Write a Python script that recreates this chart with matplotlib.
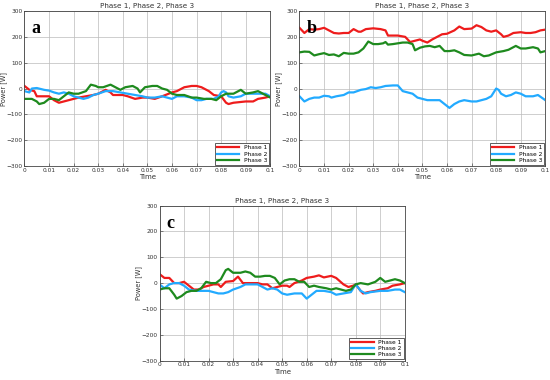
import numpy as np
import matplotlib
matplotlib.use('Agg')
import matplotlib.pyplot as plt

# panel a
a_x1 = [0, .002, .004, .005, .008, .01, .012, .014, .016, .018, .02, .022, .025, .028, .03, .032, .033, .035, .036,
        .04, .042, .045, .048, .05, .053, .056, .06, .062, .065, .068, .07, .072, .075, .077, .08, .082, .083, .085,
        .09, .093, .095, .098, .1]
a_y1 = [10, -5, -10, -30, -30, -30, -45, -55, -50, -45, -40, -35, -30, -25, -20, -10, -5, -15, -25,
        -25, -30, -40, -35, -35, -40, -30, -15, -10, 5, 10, 10, 5, -10, -25, -30, -55, -60, -55,
        -50, -50, -40, -35, -30]
a_x2 = [0, .002, .003, .005, .008, .01, .012, .014, .016, .018, .02, .022, .024, .026, .028, .03, .033, .036, .039,
        .042, .045, .048, .05, .053, .056, .058, .06, .062, .065, .068, .07, .072, .074, .077, .079, .08, .081, .082,
        .083, .085, .088, .09, .093, .095, .098, .1]
a_y2 = [-10, -15, 0, 2, -5, -8, -15, -20, -15, -20, -30, -35, -40, -35, -25, -20, -10, -10, -15,
        -20, -25, -30, -35, -35, -30, -35, -40, -30, -30, -35, -45, -45, -40, -40, -30, -15, -10, -15,
        -30, -35, -30, -20, -20, -20, -20, -30]
a_x3 = [0, .003, .005, .006, .008, .01, .012, .014, .016, .018, .02, .022, .025, .027, .029, .03, .032, .035, .037,
        .039, .041, .044, .046, .047, .049, .052, .054, .056, .058, .06, .062, .065, .068, .07, .073, .076, .078, .08,
        .082, .085, .087, .088, .09, .093, .095, .097, .1]
a_y3 = [-40, -40, -50, -60, -55, -40, -40, -45, -30, -15, -20, -20, -10, 15, 10, 5, 5, 15, 5,
        -5, 5, 10, 0, -15, 5, 10, 10, 0, -5, -20, -25, -25, -35, -35, -40, -40, -45, -30,
        -20, -20, -10, -5, -20, -15, -10, -20, -35]

# panel b
b_x1 = [0, .002, .004, .006, .008, .01, .012, .014, .016, .018, .02, .022, .024, .025, .027, .03, .033, .035, .036,
        .04, .043, .045, .047, .049, .05, .052, .054, .056, .058, .06, .063, .065, .067, .07, .072, .074, .076, .078,
        .08, .082, .083, .085, .087, .09, .092, .094, .096, .098, .1]
b_y1 = [235, 215, 230, 228, 230, 235, 225, 215, 213, 215, 215, 230, 220, 220, 230, 233, 230, 225, 205,
        205, 200, 180, 185, 190, 185, 178, 190, 200, 210, 212, 225, 240, 230, 232, 245, 238, 225, 220,
        225, 210, 200, 205, 215, 218, 215, 215, 218, 225, 228]
b_x2 = [0, .002, .004, .006, .008, .01, .012, .013, .015, .018, .02, .022, .025, .027, .029, .031, .033, .035, .038,
        .04, .042, .044, .046, .048, .05, .052, .055, .057, .059, .061, .063, .065, .067, .07, .072, .074, .076, .078,
        .079, .08, .081, .082, .084, .086, .088, .09, .092, .095, .097, .1]
b_y2 = [-30, -50, -40, -35, -35, -28, -30, -35, -30, -25, -15, -15, -5, -2, 5, 2, 5, 10, 12,
        12, -10, -15, -20, -35, -40, -45, -45, -45, -60, -75, -60, -50, -45, -50, -50, -45, -40, -30,
        -15, 0, -5, -20, -30, -25, -15, -20, -30, -30, -25, -45]
b_x3 = [0, .002, .004, .006, .008, .01, .012, .014, .016, .018, .02, .022, .024, .026, .028, .03, .032, .034, .035,
        .036, .038, .04, .042, .044, .046, .047, .049, .051, .053, .055, .057, .059, .061, .063, .065, .067, .07, .073,
        .075, .077, .08, .083, .085, .087, .088, .09, .092, .095, .097, .098, .1]
b_y3 = [140, 143, 142, 128, 133, 137, 130, 132, 125, 138, 135, 135, 140, 155, 182, 172, 172, 175, 180,
        170, 172, 175, 178, 178, 172, 148, 158, 163, 165, 160, 165, 145, 145, 148, 140, 130, 128, 135,
        125, 128, 140, 145, 150, 160, 165, 155, 155, 160, 155, 140, 145]

# panel c
c_x1 = [0, .002, .004, .006, .008, .01, .012, .014, .016, .018, .02, .022, .024, .025, .027, .03, .032, .034, .036,
        .04, .042, .044, .046, .048, .05, .052, .053, .055, .058, .06, .063, .065, .067, .07, .072, .075, .077, .079,
        .08, .082, .083, .085, .088, .09, .093, .095, .098, .1]
c_y1 = [35, 20, 20, 0, 0, 5, -10, -25, -25, -15, -10, -5, -5, -15, 5, 8, 25, 0, 0,
        0, -5, -5, -20, -15, -10, -10, -15, 0, 10, 20, 25, 30, 22, 28, 20, -5, -15, -10,
        -5, -30, -40, -35, -30, -25, -20, -10, -5, 0]
c_x2 = [0, .002, .004, .006, .008, .01, .012, .015, .018, .02, .022, .024, .026, .028, .03, .033, .035, .038, .04,
        .042, .044, .046, .048, .05, .052, .055, .058, .06, .062, .064, .067, .07, .072, .075, .078, .08, .082, .084,
        .086, .09, .093, .096, .098, .1]
c_y2 = [-5, -20, -5, 0, 0, -10, -25, -30, -30, -30, -35, -40, -40, -35, -25, -15, -5, -5, -5,
        -15, -25, -20, -25, -40, -45, -40, -40, -60, -45, -30, -30, -35, -45, -40, -35, -5, -30, -40,
        -35, -30, -30, -25, -25, -35]
c_x3 = [0, .002, .004, .006, .007, .009, .011, .013, .015, .017, .019, .021, .023, .025, .027, .028, .03, .033, .035,
        .037, .039, .041, .043, .045, .047, .049, .051, .053, .055, .057, .059, .061, .063, .065, .068, .07, .072, .074,
        .076, .078, .08, .082, .085, .088, .09, .092, .094, .096, .098, .1]
c_y3 = [-25, -20, -20, -45, -60, -50, -35, -30, -30, -20, 5, 0, 0, 15, 50, 55, 40, 40, 45,
        40, 25, 25, 28, 28, 20, -5, 10, 15, 15, 5, 5, -15, -10, -15, -20, -25, -20, -25,
        -30, -25, -5, 0, -5, 5, 20, 5, 10, 15, 10, 0]

labels = ['Phase 1', 'Phase 2', 'Phase 3']
colors = ['#ee1c1c', '#22aaff', '#1e8a1e']

panels = [
    ('a', [0.0445, 0.563, 0.447, 0.408], [(a_x1, a_y1), (a_x2, a_y2), (a_x3, a_y3)]),
    ('b', [0.5445, 0.563, 0.447, 0.408], [(b_x1, b_y1), (b_x2, b_y2), (b_x3, b_y3)]),
    ('c', [0.290, 0.051, 0.446, 0.408], [(c_x1, c_y1), (c_x2, c_y2), (c_x3, c_y3)]),
]

fig = plt.figure(figsize=(5.5, 3.8), dpi=100)
for tag, rect, series in panels:
    ax = fig.add_axes(rect)
    for (x, y), lab, col in zip(series, labels, colors):
        ax.plot(x, y, color=col, lw=1.6, label=lab)
    ax.set_xlim(0, 0.1)
    ax.set_ylim(-300, 300)
    ax.set_xticks(np.arange(0, 0.1001, 0.01))
    ax.set_xticklabels(['0'] + ['%.2f' % v for v in np.arange(0.01, 0.095, 0.01)] + ['0.1'])
    ax.set_yticks(np.arange(-300, 301, 100))
    ax.tick_params(labelsize=4.2, length=2, width=0.4, pad=1.2, direction='in', colors='#333333')
    ax.grid(True, color='#bbbbbb', lw=0.5)
    for s in ax.spines.values():
        s.set_linewidth(0.6)
        s.set_color('#444444')
    ax.set_title('Phase 1, Phase 2, Phase 3', fontsize=5.2, pad=2, color='#333333')
    ax.set_xlabel('Time', fontsize=5, labelpad=1, color='#333333')
    ax.set_ylabel('Power [W]', fontsize=4.8, labelpad=0, color='#333333')
    ax.text(0.03, 0.94, tag, transform=ax.transAxes, fontsize=13, fontweight='bold',
            family='Liberation Serif', va='top', ha='left')
    leg = ax.legend(loc='lower right', fontsize=4.2, handlelength=3.8, borderpad=0.35,
                    labelspacing=0.2, fancybox=False, framealpha=1, borderaxespad=0.2)
    leg.get_frame().set_edgecolor('#444444')
    leg.get_frame().set_linewidth(0.6)

fig.savefig('out.png', dpi=100)
